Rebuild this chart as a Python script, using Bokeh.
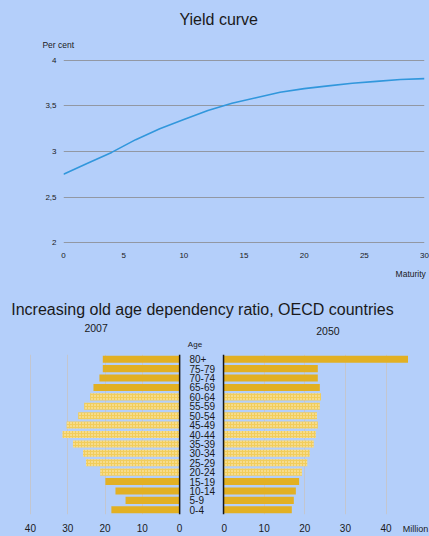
from bokeh.plotting import figure
from bokeh.models import (Range1d, FactorRange, FixedTicker, Label, Span, ColumnDataSource,
                          CustomJSTickFormatter)
from bokeh.layouts import column, row
from bokeh.embed import file_html
from bokeh.resources import INLINE

BG = "#b4cffa"
FONT = "Liberation Sans"
TXT = "#1a1a1a"

# ---- Yield curve data ----
maturity = [0, 2, 4, 6, 8, 10, 12, 14, 16, 18, 20, 22, 24, 26, 28, 30]
yield_pct = [2.75, 2.87, 2.99, 3.13, 3.25, 3.35, 3.45, 3.53, 3.59, 3.65, 3.69, 3.72, 3.75, 3.77, 3.79, 3.80]
y_ticks = [2, 2.5, 3, 3.5, 4]
x_ticks = [0, 5, 10, 15, 20, 25, 30]

# ---- Population pyramid data (million) ----
age_groups = ["80+", "75-79", "70-74", "65-69", "60-64", "55-59", "50-54", "45-49",
              "40-44", "35-39", "30-34", "25-29", "20-24", "15-19", "10-14", "5-9", "0-4"]
pop_2007 = [20.6, 20.6, 21.5, 23.1, 24.0, 25.6, 27.2, 30.3, 31.4, 28.6, 25.9, 25.1, 21.3, 19.9, 17.2, 14.5, 18.3]
pop_2050 = [45.4, 23.2, 23.2, 23.7, 24.0, 23.7, 23.0, 23.2, 22.7, 22.2, 21.2, 20.6, 19.3, 18.6, 17.8, 17.3, 16.8]
working_groups = ["60-64", "55-59", "50-54", "45-49", "40-44", "35-39", "30-34", "25-29", "20-24"]
pop_ticks = [0, 10, 20, 30, 40]


def style_fig(p):
    p.background_fill_color = BG
    p.border_fill_color = BG
    p.outline_line_color = None
    for ax in p.axis:
        ax.axis_line_color = None
        ax.major_tick_line_color = None
        ax.minor_tick_line_color = None
        ax.major_tick_out = 0
        ax.major_tick_in = 0
        ax.minor_tick_out = 0
        ax.minor_tick_in = 0
        ax.major_label_text_font = FONT
        ax.major_label_text_color = TXT


def lab(x, y, text, size, align="left"):
    return Label(x=x, y=y, text=text, text_align=align, text_baseline="middle",
                 text_font=FONT, text_font_size=size, text_color=TXT)


# ---------------- Top: yield curve ----------------
top = figure(width=429, height=319, x_range=Range1d(0, 30), y_range=Range1d(1.99, 4.01),
             output_backend="svg", toolbar_location=None,
             min_border_left=63, min_border_right=5, min_border_top=59, min_border_bottom=76)
style_fig(top)
top.xaxis.ticker = FixedTicker(ticks=x_ticks)
top.yaxis.ticker = FixedTicker(ticks=y_ticks)
top.yaxis.formatter = CustomJSTickFormatter(code="return String(tick).replace('.', ',')")
top.xaxis.major_label_text_font_size = "8px"
top.yaxis.major_label_text_font_size = "8px"
top.xaxis.major_label_standoff = 9
top.yaxis.major_label_standoff = 7
top.xgrid.grid_line_color = None
top.ygrid.grid_line_color = "#9298a3"
top.ygrid.grid_line_width = 1
top.line(maturity, yield_pct, line_color="#3197dc", line_width=1.6)

top.add_layout(lab(12.9, 4.445, "Yield curve", "16px", "center"), "above")
top.add_layout(lab(-1.75, 4.17, "Per cent", "8.5px"), "above")
top.add_layout(lab(27.6, 1.65, "Maturity", "8.5px"), "below")
top.add_layout(lab(11.55, 1.27, "Increasing old age dependency ratio, OECD countries", "16px", "center"), "below")

# ---------------- Bottom: pyramids ----------------
factors = list(reversed(age_groups))
solid_col = "#e2b023"
hatch_fill = "#f1cd5c"


def split(values):
    s = dict(age=[], v=[])
    h = dict(age=[], v=[])
    for a, v in zip(age_groups, values):
        d = h if a in working_groups else s
        d["age"].append(a)
        d["v"].append(v)
    return ColumnDataSource(s), ColumnDataSource(h)


# left (2007)
left = figure(width=221, height=217, x_range=Range1d(44, -0.5), y_range=FactorRange(factors=factors, range_padding=0),
              y_axis_location="right", output_backend="svg", toolbar_location=None,
              min_border_left=15, min_border_right=40, min_border_top=35, min_border_bottom=22)
style_fig(left)
left.xaxis.ticker = FixedTicker(ticks=pop_ticks)
left.xaxis.major_label_text_font_size = "10px"
left.xaxis.major_label_standoff = 9
left.yaxis.major_label_text_font_size = "10px"
left.yaxis.major_label_standoff = 8
left.ygrid.grid_line_color = None
left.xgrid.grid_line_color = "#c3c6cf"
s_src, h_src = split(pop_2007)
left.hbar(y="age", left=0, right="v", height=0.75, source=s_src, fill_color=solid_col, line_color=None)
left.hbar(y="age", left=0, right="v", height=0.75, source=h_src, fill_color=hatch_fill, line_color=None,
          hatch_pattern="dot", hatch_color="#fff3cf", hatch_scale=3, hatch_weight=1)
left.add_layout(Span(location=0, dimension="height", line_color="#151515", line_width=1.5))
left.add_layout(lab(22.4, 19.85, "2007", "10.5px", "center"), "above")
left.add_layout(lab(-2.2, 18.04, "Age", "8px"), "above")

# right (2050)
right = figure(width=208, height=217, x_range=Range1d(-0.5, 50.2), y_range=FactorRange(factors=factors, range_padding=0),
               output_backend="svg", toolbar_location=None,
               min_border_left=0, min_border_right=2, min_border_top=35, min_border_bottom=22)
style_fig(right)
right.yaxis.visible = False
right.xaxis.ticker = FixedTicker(ticks=pop_ticks)
right.xaxis.major_label_text_font_size = "10px"
right.xaxis.major_label_standoff = 9
right.ygrid.grid_line_color = None
right.xgrid.grid_line_color = "#c3c6cf"
s_src2, h_src2 = split(pop_2050)
right.hbar(y="age", left=0, right="v", height=0.75, source=s_src2, fill_color=solid_col, line_color=None)
right.hbar(y="age", left=0, right="v", height=0.75, source=h_src2, fill_color=hatch_fill, line_color=None,
           hatch_pattern="dot", hatch_color="#fff3cf", hatch_scale=3, hatch_weight=1)
right.add_layout(Span(location=0, dimension="height", line_color="#151515", line_width=1.5))
right.add_layout(lab(25.7, 19.47, "2050", "10.5px", "center"), "above")
right.add_layout(lab(44.1, -1.55, "Million", "9px"), "above")

p = column(top, row(left, right))
p.styles = {"background-color": BG}
open("out.html", "w").write(file_html(p, INLINE))
